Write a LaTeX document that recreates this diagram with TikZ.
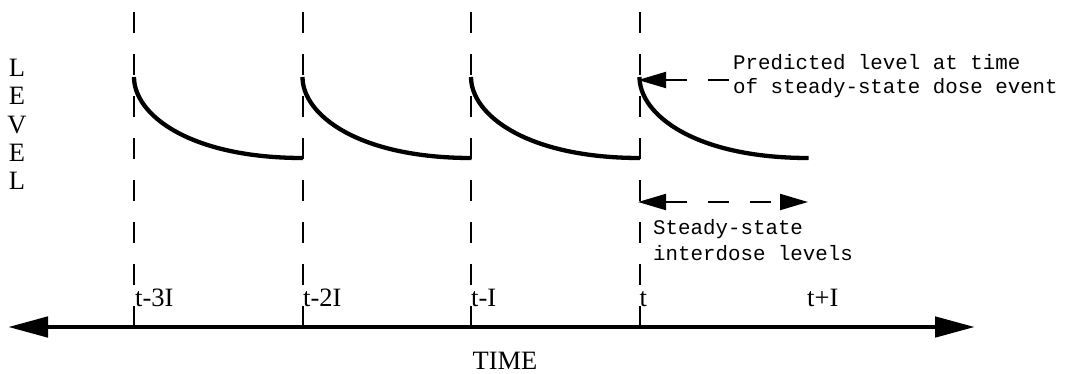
\documentclass[tikz,border=0pt]{standalone}
\usepackage{fontspec}
\setmainfont{Liberation Serif}
\newfontfamily\monofont{Liberation Mono}
\usetikzlibrary{arrows.meta}
\begin{document}
\begin{tikzpicture}[x=1pt,y=-1pt,
  serif/.style={font=\fontsize{26.5}{28}\selectfont, inner sep=0pt, anchor=base west},
  mono/.style={font=\monofont\fontsize{20.8}{24}\selectfont, inner sep=0pt, anchor=base west},
  guide/.style={line width=2pt, dash pattern=on 21pt off 21pt},
  decay/.style={line width=4.3pt},
  axis/.style={line width=4.8pt, {Triangle[length=40pt,width=20pt]}-{Triangle[length=40pt,width=20pt]}},
  note/.style={line width=2pt, dash pattern=on 21pt off 21pt, -{Triangle[length=28pt,width=16pt]}},
  span/.style={line width=2pt, dash pattern=on 21pt off 21pt, {Triangle[length=28pt,width=16pt]}-{Triangle[length=28pt,width=16pt]}}
]
\useasboundingbox (0,0) rectangle (1065,373);
% LEVEL
\foreach \ch/\yy [count=\k] in {L/76,E/104.5,V/133,E/161,L/189}
  \node[serif, anchor=base] (lev\k) at (17,\yy) {\ch};
% guide lines
\foreach \xx [count=\k] in {134,302.5,471,639.5} {
  \coordinate (gtop\k) at (\xx,12);
  \coordinate (gbot\k) at (\xx,327);
  \draw[guide] (gtop\k) -- (gbot\k);
}
% decay curves
\foreach \xx [count=\k] in {134,302.5,471,639.5} {
  \coordinate (peak\k) at (\xx,77);
  \coordinate (trough\k) at (\xx+169,158);
  \draw[decay] (peak\k) .. controls (\xx,115) and (\xx+56,158) .. (trough\k);
}
% axis
\coordinate (axl) at (8,327);
\coordinate (axr) at (975,327);
\draw[axis] (axl) -- (axr);
% tick labels
\node[serif] (l1) at (135,306.5) {t-3I};
\node[serif] (l2) at (303,306.5) {t-2I};
\node[serif] (l3) at (471,306.5) {t-I};
\node[serif] (l4) at (639.5,306.5) {t};
\node[serif] (l5) at (807,306.5) {t+I};
\node[serif, anchor=base] (time) at (505,369) {TIME};
% annotations
\node[mono] (pred1) at (733,69) {Predicted level at time};
\node[mono] (pred2) at (733,93) {of steady-state dose event};
\coordinate (predtail) at (729,80);
\coordinate (predtip) at (638,80);
\draw[note] (predtail) -- (predtip);
\coordinate (spl) at (638,202);
\coordinate (spr) at (808,202);
\draw[span] (spl) -- (spr);
\node[mono] (ss1) at (653,234) {Steady-state};
\node[mono] (ss2) at (653,260) {interdose levels};
\end{tikzpicture}
\end{document}
